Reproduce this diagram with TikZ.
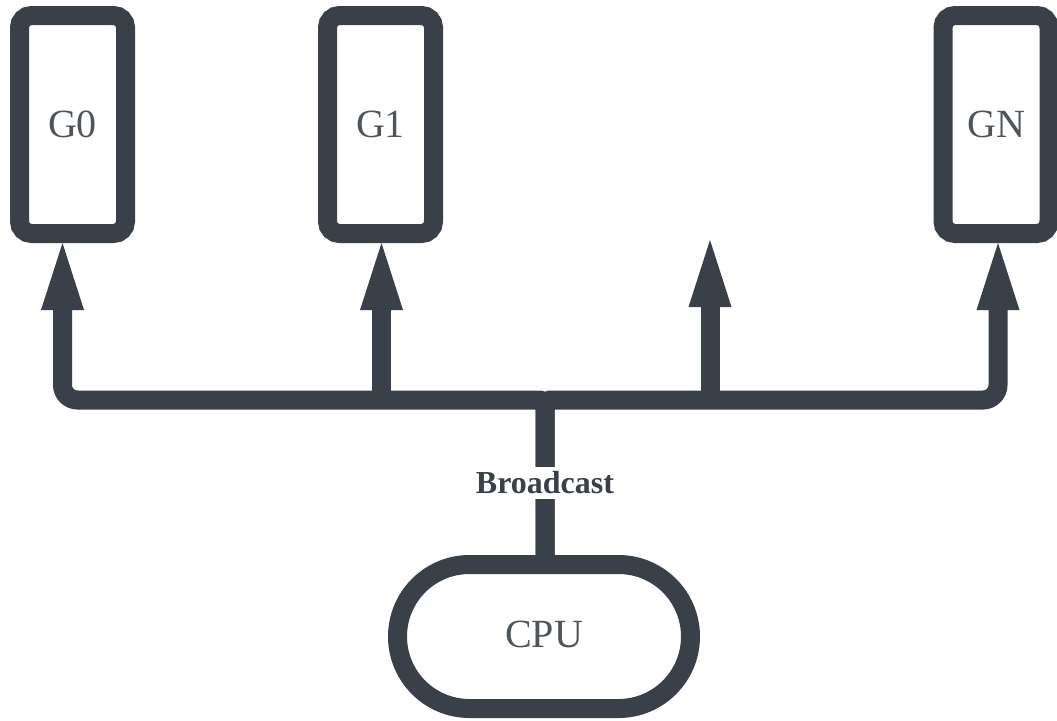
\documentclass[tikz,border=0pt]{standalone}
\usepackage{fontspec}
\setmainfont{Liberation Serif}
\usetikzlibrary{arrows.meta,shapes.misc}
\definecolor{ink}{HTML}{3A4049}
\definecolor{txt}{HTML}{4E545C}
\tikzset{
  gpu/.style={draw=ink, line width=19pt, rounded corners=12pt, fill=white,
    minimum width=106pt, minimum height=218pt, inner sep=0pt,
    text=txt, font=\fontsize{40}{48}\selectfont},
  cpu/.style={rounded rectangle, draw=ink, line width=19pt, fill=white,
    minimum width=293pt, minimum height=144pt, inner sep=0pt,
    text=txt, font=\fontsize{40}{48}\selectfont},
  wire/.style={draw=ink, line width=19pt, rounded corners=5pt,
    -{Triangle[length=67pt,width=43pt,line width=0pt]}},
  lbl/.style={fill=white, text=ink, inner sep=5pt,
    font=\bfseries\fontsize{32}{38}\selectfont}
}
\begin{document}
\begin{tikzpicture}[x=1pt,y=-1pt]
\useasboundingbox (0,0) rectangle (1057,720);
\node[gpu] (G0) at (72.5,124.5) {G0};
\node[gpu] (G1) at (380.5,124.5) {G1};
\node[gpu] (GN) at (996,124.5) {GN};
\node[cpu] (CPU) at (544,636.5) {};
\node[text=txt, font=\fontsize{40}{48}\selectfont] (cpulabel) at (544,634) {CPU};
\coordinate (bus) at (545,400);
\coordinate (mid) at (710,240);
\draw[wire] (CPU.north -| bus) -- (bus) [rounded corners=15pt] -| ([xshift=-10pt]G0.south);
\draw[wire] (CPU.north -| bus) -- (bus) [rounded corners=15pt] -| ([xshift=2pt]GN.south);
\draw[wire] ([xshift=1pt]G1.south |- bus) -- ([xshift=1pt]G1.south);
\draw[wire] (mid |- bus) -- (mid);
\node[lbl] (bc) at (545,483) {Broadcast};
\end{tikzpicture}
\end{document}
